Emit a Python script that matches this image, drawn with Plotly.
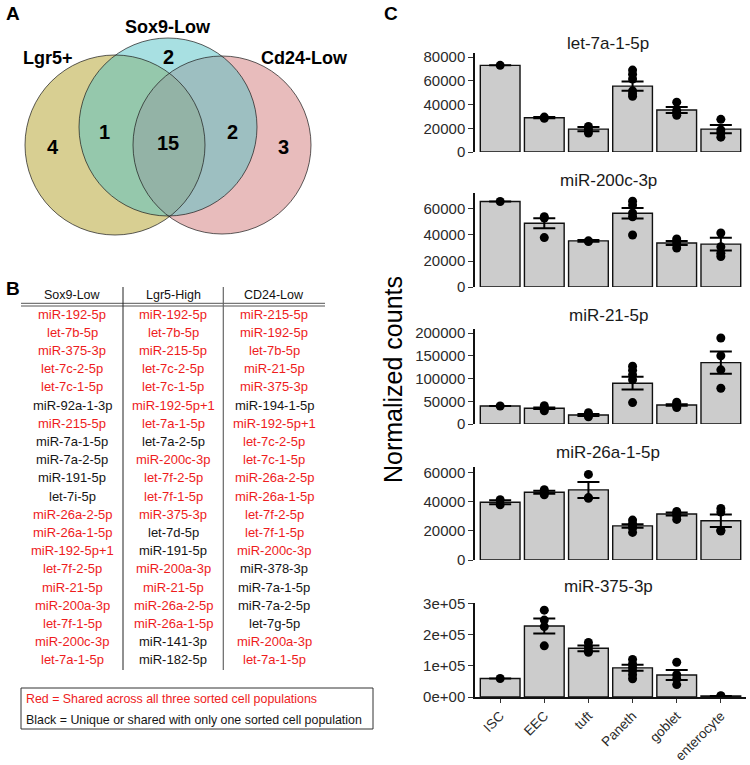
import plotly.graph_objects as go

W, H = 750, 765
FONT = "Liberation Sans, Arial, sans-serif"

# ---------------- data ----------------
venn_labels = ["Lgr5+", "Sox9-Low", "Cd24-Low"]
venn_region_names = ["Lgr5+ only", "Sox9-Low only", "Cd24-Low only",
                     "Lgr5+ & Sox9-Low", "all three", "Sox9-Low & Cd24-Low"]
venn_region_counts = [4, 2, 3, 1, 15, 2]

table_headers = ["Sox9-Low", "Lgr5-High", "CD24-Low"]
sox9_low = ["miR-192-5p", "let-7b-5p", "miR-375-3p", "let-7c-2-5p", "let-7c-1-5p",
            "miR-92a-1-3p", "miR-215-5p", "miR-7a-1-5p", "miR-7a-2-5p", "miR-191-5p",
            "let-7i-5p", "miR-26a-2-5p", "miR-26a-1-5p", "miR-192-5p+1", "let-7f-2-5p",
            "miR-21-5p", "miR-200a-3p", "let-7f-1-5p", "miR-200c-3p", "let-7a-1-5p"]
lgr5_high = ["miR-192-5p", "let-7b-5p", "miR-215-5p", "let-7c-2-5p", "let-7c-1-5p",
             "miR-192-5p+1", "let-7a-1-5p", "let-7a-2-5p", "miR-200c-3p", "let-7f-2-5p",
             "let-7f-1-5p", "miR-375-3p", "let-7d-5p", "miR-191-5p", "miR-200a-3p",
             "miR-21-5p", "miR-26a-2-5p", "miR-26a-1-5p", "miR-141-3p", "miR-182-5p"]
cd24_low = ["miR-215-5p", "miR-192-5p", "let-7b-5p", "miR-21-5p", "miR-375-3p",
            "miR-194-1-5p", "miR-192-5p+1", "let-7c-2-5p", "let-7c-1-5p", "miR-26a-2-5p",
            "miR-26a-1-5p", "let-7f-2-5p", "let-7f-1-5p", "miR-200c-3p", "miR-378-3p",
            "miR-7a-1-5p", "miR-7a-2-5p", "let-7g-5p", "miR-200a-3p", "let-7a-1-5p"]
legend_lines = ["Red = Shared across all three sorted cell populations",
                "Black = Unique or shared with only one sorted cell population"]

cell_types = ["ISC", "EEC", "tuft", "Paneth", "goblet", "enterocyte"]
mirna_names = ["let-7a-1-5p", "miR-200c-3p", "miR-21-5p", "miR-26a-1-5p", "miR-375-3p"]

let7a_mean = [73000, 28900, 19300, 55500, 35400, 19300]
let7a_se = [0, 500, 1800, 3800, 2500, 3500]
let7a_pts = [[73000], [28400, 29400], [21500, 19000, 16000],
             [69000, 65500, 61500, 51500, 49000, 47000],
             [42000, 35000, 33000, 31000], [27500, 18500, 16000, 12500]]

mir200c_mean = [65800, 49000, 35500, 56700, 33800, 33000]
mir200c_se = [0, 3800, 600, 4100, 1500, 4900]
mir200c_pts = [[65800], [54000, 53000, 38000], [35500, 35000],
               [66000, 63000, 57000, 54000, 40000],
               [37000, 35000, 33000, 30000], [41500, 31000, 26000, 23500]]

mir21_mean = [39600, 34500, 19800, 89600, 41800, 134800]
mir21_se = [0, 1800, 2200, 14000, 1800, 24500]
mir21_pts = [[39600], [40000, 36000, 33000, 29000], [25000, 19500, 16000],
             [127000, 118000, 108000, 97000, 47000],
             [48000, 43000, 40000, 36000], [189000, 150000, 119000, 78500]]

mir26a_mean = [39800, 46700, 48300, 23500, 31700, 27100]
mir26a_se = [1300, 1000, 5500, 1200, 1000, 4300]
mir26a_pts = [[41500, 38000], [48500, 46500, 45000], [59000, 43000, 42500],
              [27500, 25000, 23500, 22000, 19000],
              [33500, 32000, 30500, 28000], [35500, 33000, 20500, 20000]]

mir375_mean = [59500, 229000, 157000, 94000, 71000, 3000]
mir375_se = [0, 24000, 9200, 9700, 16000, 500]
mir375_pts = [[59500], [280000, 248000, 227000, 165000], [176000, 162000, 150000, 144000],
              [121000, 107000, 96000, 85000, 72000, 59000],
              [112000, 72000, 58000, 40000], [4000, 2500]]

ytick_vals = [[0, 20000, 40000, 60000, 80000],
              [0, 20000, 40000, 60000],
              [0, 50000, 100000, 150000, 200000],
              [0, 20000, 40000, 60000],
              [0, 100000, 200000, 300000]]
ytick_text = [["0", "20000", "40000", "60000", "80000"],
              ["0", "20000", "40000", "60000"],
              ["0", "50000", "100000", "150000", "200000"],
              ["0", "20000", "40000", "60000"],
              ["0e+00", "1e+05", "2e+05", "3e+05"]]
y_axis_max = [83400, 72300, 208800, 64100, 303000]

means = [let7a_mean, mir200c_mean, mir21_mean, mir26a_mean, mir375_mean]
ses = [let7a_se, mir200c_se, mir21_se, mir26a_se, mir375_se]
points = [let7a_pts, mir200c_pts, mir21_pts, mir26a_pts, mir375_pts]


# ---------------- layout helpers ----------------
def px(x):
    return x / W


def py(y):
    return 1 - y / H


def note(x, y, text, size, color="black", xanchor="center", angle=0):
    return dict(x=px(x), y=py(y), xref="paper", yref="paper", showarrow=False,
                xanchor=xanchor, yanchor="middle", text=text, textangle=angle,
                font=dict(family=FONT, size=size, color=color))


fig = go.Figure()
shapes = []
annotations = []

# ---------------- Panel A: Venn ----------------
venn_geom = {"Lgr5+": (115, 145, 90), "Sox9-Low": (168, 127, 89), "Cd24-Low": (222, 145, 89)}
venn_fill = {"Lgr5+": "rgb(177,159,37)", "Sox9-Low": "rgb(81,193,197)", "Cd24-Low": "rgb(209,121,121)"}
draw_order = ["Lgr5+", "Cd24-Low", "Sox9-Low"]
for name in draw_order:
    cx, cy, r = venn_geom[name]
    shapes.append(dict(type="circle", xref="paper", yref="paper",
                       x0=px(cx - r), x1=px(cx + r), y0=py(cy + r), y1=py(cy - r),
                       fillcolor=venn_fill[name], opacity=0.5, line=dict(width=0)))
for name in draw_order:
    cx, cy, r = venn_geom[name]
    shapes.append(dict(type="circle", xref="paper", yref="paper",
                       x0=px(cx - r), x1=px(cx + r), y0=py(cy + r), y1=py(cy - r),
                       line=dict(color="rgba(30,30,30,0.9)", width=0.8)))

venn_label_pos = {"Lgr5+": (48, 58), "Sox9-Low": (168, 27), "Cd24-Low": (304, 58)}
for lab in venn_labels:
    x, y = venn_label_pos[lab]
    annotations.append(note(x, y, "<b>%s</b>" % lab, 18))
venn_count_pos = {"Lgr5+ only": (53, 147), "Sox9-Low only": (168, 57), "Cd24-Low only": (283, 147),
                  "Lgr5+ & Sox9-Low": (104, 132), "all three": (168, 143), "Sox9-Low & Cd24-Low": (233, 132)}
for nm, c in zip(venn_region_names, venn_region_counts):
    x, y = venn_count_pos[nm]
    annotations.append(note(x, y, "<b>%d</b>" % c, 20))

# ---------------- Panel B: table ----------------
columns = [sox9_low, lgr5_high, cd24_low]
shared = set(sox9_low) & set(lgr5_high) & set(cd24_low)
col_x = [72, 173, 274]
row_y0, row_dy = 314, 18.2
for cx, hdr in zip(col_x, table_headers):
    annotations.append(note(cx, 295, hdr, 12.5, "#111"))
for cx, col in zip(col_x, columns):
    for i, name in enumerate(col):
        annotations.append(note(cx, row_y0 + i * row_dy, name, 13,
                                "#ee1c1c" if name in shared else "#151515"))
for yy in (303.3, 306):
    shapes.append(dict(type="line", xref="paper", yref="paper", x0=px(21), x1=px(325),
                       y0=py(yy), y1=py(yy), line=dict(color="#555", width=1)))
shapes.append(dict(type="line", xref="paper", yref="paper", x0=px(123), x1=px(123),
                   y0=py(287), y1=py(670), line=dict(color="#222", width=1)))
shapes.append(dict(type="line", xref="paper", yref="paper", x0=px(223.3), x1=px(223.3),
                   y0=py(287), y1=py(670), line=dict(color="#666", width=1.2)))
shapes.append(dict(type="rect", xref="paper", yref="paper", x0=px(21), x1=px(373),
                   y0=py(729), y1=py(688), line=dict(color="#333", width=1)))
for yy, txt, colr in zip((699, 720), legend_lines, ("#ee1c1c", "#151515")):
    annotations.append(note(24, yy, txt, 12.4, colr, xanchor="left"))

# ---------------- Panel C: bar charts ----------------
panel_px = [(53, 152), (193, 287), (329, 424), (467, 560), (603, 697)]
title_y = [43, 180, 315, 452, 586]
x_dom = [px(475), px(746)]
layout_axes = {}
for i in range(5):
    s = "" if i == 0 else str(i + 1)
    xa, ya = "x" + s, "y" + s
    fig.add_trace(go.Bar(x=cell_types, y=means[i], xaxis=xa, yaxis=ya, width=0.9,
                         marker=dict(color="#cccccc", line=dict(color="#111", width=1.4)),
                         error_y=dict(type="data", array=ses[i], visible=True, color="black",
                                      thickness=2, width=11),
                         showlegend=False, hoverinfo="skip"))
    px_x, px_y = [], []
    for c, pl in zip(cell_types, points[i]):
        px_x += [c] * len(pl)
        px_y += pl
    fig.add_trace(go.Scatter(x=px_x, y=px_y, xaxis=xa, yaxis=ya, mode="markers",
                             marker=dict(color="black", size=9), showlegend=False, hoverinfo="skip"))
    top, bot = panel_px[i]
    last = (i == 4)
    layout_axes["xaxis" + s] = dict(domain=x_dom, anchor=ya, type="category",
                                    categoryorder="array", categoryarray=cell_types,
                                    range=[-0.57, 5.57], showgrid=False, zeroline=False,
                                    showline=last, linecolor="#111", linewidth=1.5,
                                    ticks="outside" if last else "", ticklen=4, tickwidth=1.2,
                                    tickcolor="#333", showticklabels=last, tickangle=-45,
                                    tickfont=dict(family=FONT, size=13.5, color="#2a2a2a"),
                                    automargin=False, fixedrange=True)
    layout_axes["yaxis" + s] = dict(domain=[py(bot), py(top)], anchor=xa,
                                    range=[0, y_axis_max[i]], showgrid=False, zeroline=False,
                                    showline=True, linecolor="#111", linewidth=1.5,
                                    ticks="outside", ticklen=5, tickwidth=1.2, tickcolor="#333",
                                    tickvals=ytick_vals[i], ticktext=ytick_text[i],
                                    tickfont=dict(family=FONT, size=15, color="#2a2a2a"),
                                    automargin=False, fixedrange=True)
    annotations.append(note(608, title_y[i], mirna_names[i], 17, "#1a1a1a"))

annotations.append(note(393, 380, "Normalized counts", 25, "black", angle=-90))

for lab, (x, y) in zip(["A", "B", "C"], [(13, 13), (13, 288), (391, 13)]):
    annotations.append(note(x, y, "<b>%s</b>" % lab, 19))

fig.update_layout(width=W, height=H, margin=dict(l=0, r=0, t=0, b=0, pad=0),
                  template="none", paper_bgcolor="white", plot_bgcolor="rgba(0,0,0,0)",
                  shapes=shapes, annotations=annotations, showlegend=False,
                  bargap=0.1, **layout_axes)

fig.write_html("out.html", config={"displayModeBar": False},
               post_script="document.body.style.margin='0px';document.body.style.overflow='hidden';")
